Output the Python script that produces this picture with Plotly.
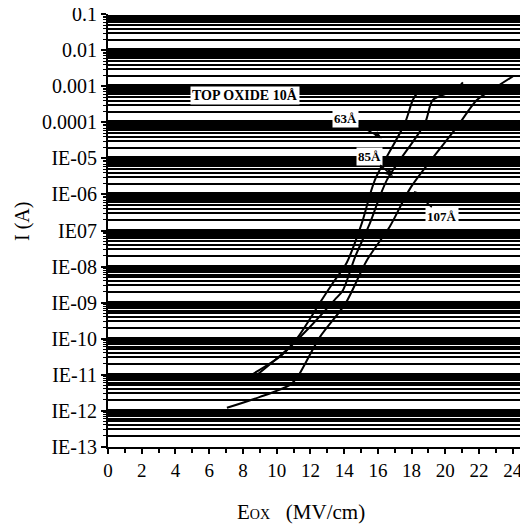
import plotly.graph_objects as go

# Field (MV/cm) and current (A)
eox_63 = [8.41, 10.31, 11.26, 12.68, 13.33, 14.16, 15.05, 15.82, 17.60, 18.07, 18.37]
i_63 = [9.3e-12, 3.5e-11, 1.1e-10, 1.2e-9, 3.5e-9, 1.3e-8, 1.6e-7, 2.5e-6, 9.5e-5, 4.2e-4, 6.9e-4]

eox_85 = [8.83, 10.61, 11.97, 13.45, 13.93, 14.64, 15.53, 16.53, 18.79, 19.26, 20.56, 21.04]
i_85 = [9.8e-12, 4.9e-11, 2.1e-10, 1.2e-9, 2.2e-9, 1.8e-8, 1.6e-7, 2.5e-6, 9.5e-5, 4.2e-4, 7.8e-4, 1.3e-3]

eox_107 = [7.05, 9.01, 10.79, 11.20, 12.56, 14.10, 15.35, 16.71, 17.96, 20.68, 21.87, 22.81, 24.0]
i_107 = [1.2e-12, 2.4e-12, 5.2e-12, 8.1e-12, 1.1e-10, 9.8e-10, 1.5e-8, 1.3e-7, 1.6e-6, 7.4e-5, 4.2e-4, 8.3e-4, 1.9e-3]

y_tickvals = [1e-1, 1e-2, 1e-3, 1e-4, 1e-5, 1e-6, 1e-7, 1e-8, 1e-9, 1e-10, 1e-11, 1e-12, 1e-13]
y_ticktext = ["0.1", "0.01", "0.001", "0.0001", "IE-05", "IE-06", "IE07", "IE-08",
              "IE-09", "IE-10", "IE-11", "IE-12", "IE-13"]
x_tickvals = list(range(0, 25, 2))

minor_vals = [k * 10.0 ** n for n in range(-13, -1) for k in range(2, 10)]

FONT = "Liberation Serif"

fig = go.Figure()
for xs, ys in [(eox_63, i_63), (eox_85, i_85), (eox_107, i_107)]:
    fig.add_trace(go.Scatter(x=xs, y=ys, mode="lines",
                             line=dict(color="black", width=2, shape="spline", smoothing=0.8),
                             showlegend=False, hoverinfo="skip"))

# page body has an 8px margin, so the figure is offset by (8, 8)
fig.update_layout(
    width=520, height=517,
    margin=dict(l=100, r=0, t=6, b=78),
    paper_bgcolor="white", plot_bgcolor="white",
    font=dict(family=FONT, color="black", size=19),
    showlegend=False,
)
fig.update_xaxes(
    range=[0, 24.9], tickvals=x_tickvals, ticks="outside", ticklen=5, tickwidth=2,
    tickcolor="black", showgrid=False, showline=True, linecolor="black", linewidth=2,
    zeroline=False, tickfont=dict(size=19, family=FONT), automargin=False,
    ticklabeloverflow="allow",
    minor=dict(dtick=1, ticks="outside", ticklen=4, tickwidth=2, tickcolor="black"),
)
fig.update_yaxes(
    type="log", range=[-13.01, -0.99], tickvals=y_tickvals, ticktext=y_ticktext,
    ticks="outside", ticklen=5, tickwidth=2, tickcolor="black",
    showgrid=True, gridcolor="black", gridwidth=4, automargin=False,
    ticklabeloverflow="allow",
    showline=True, linecolor="black", linewidth=2, zeroline=False,
    tickfont=dict(size=20, family=FONT),
    minor=dict(tickvals=minor_vals, ticks="outside", ticklen=3, tickwidth=1,
               tickcolor="black", showgrid=True, gridcolor="black", gridwidth=1.6),
)

def px_to_x(px):
    return (px - 108) / 16.875

def py_to_logy(py):
    return -1 - (py - 14) / 36.08

fig.add_annotation(x=px_to_x(245), y=py_to_logy(95), text="<b>TOP OXIDE 10Å</b>",
                   showarrow=False, font=dict(size=14, family=FONT, color="black"),
                   bgcolor="white")
ann = [("<b>63Å</b>", 346, 118, 382, 138), ("<b>85Å</b>", 370, 156, 393, 176),
       ("<b>107Å</b>", 442, 216, 414, 191)]
for txt, tx, ty, ax_, ay_ in ann:
    fig.add_annotation(x=px_to_x(ax_), y=py_to_logy(ay_), text=txt, showarrow=True,
                       arrowhead=2, arrowsize=1, arrowwidth=1.5, arrowcolor="black",
                       ax=tx - ax_, ay=ty - ay_,
                       font=dict(size=13, family=FONT, color="black"), bgcolor="white")

fig.add_annotation(xref="paper", yref="paper", x=(301 - 108) / 420, y=(447 - 512) / 433,
                   xanchor="center", yanchor="middle",
                   text="E<span style='font-size:14px'>OX</span>   (MV/cm)", showarrow=False,
                   font=dict(size=21, family=FONT, color="black"))
fig.add_annotation(xref="paper", yref="paper", x=(22 - 108) / 420, y=(447 - 222) / 433,
                   xanchor="center", yanchor="middle",
                   text="I (A)", textangle=-90, showarrow=False,
                   font=dict(size=20, family=FONT, color="black"))

fig.write_html("out.html")
